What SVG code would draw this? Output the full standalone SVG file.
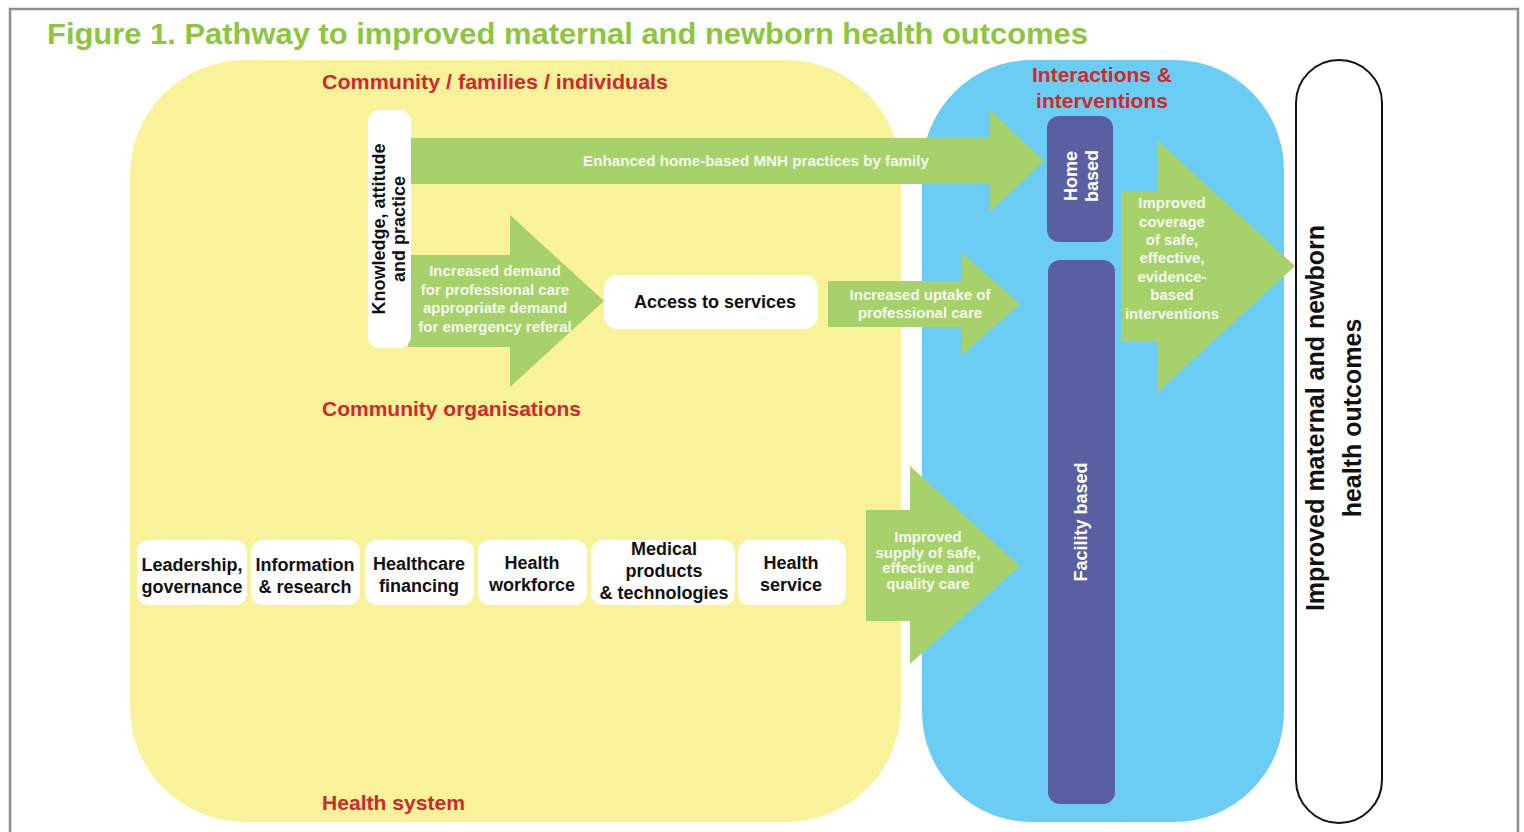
<svg xmlns="http://www.w3.org/2000/svg" width="1524" height="832" viewBox="0 0 1524 832">
<style>
.t{font-family:"Liberation Sans",Arial,sans-serif;font-weight:bold}
.red{fill:#d1282c;font-size:21px}
.box{fill:#ffffff}
.bl{fill:#111;font-size:18px;text-anchor:middle}
.gr{fill:#a6d16b}
.wt{fill:#f5faee;font-size:15px;text-anchor:middle}
.pu{fill:#5a5fa2}
.pt{fill:#ffffff;font-size:18px;text-anchor:middle}
</style>
<rect width="1524" height="832" fill="#ffffff"/>
<path d="M10 840 V9 H1518 V840" fill="none" stroke="#8c8c8c" stroke-width="2.5"/>
<text class="t" x="47" y="44" font-size="30" fill="#8cc63f" textLength="1041" lengthAdjust="spacingAndGlyphs">Figure 1. Pathway to improved maternal and newborn health outcomes</text>

<g id="region-community">
<rect x="130" y="60" width="771" height="762" rx="115" ry="115" fill="#f8f29a"/>
<text class="t red" x="322" y="89" textLength="346" lengthAdjust="spacingAndGlyphs">Community / families / individuals</text>
<text class="t red" x="322" y="416" textLength="259" lengthAdjust="spacingAndGlyphs">Community organisations</text>
<text class="t red" x="322" y="810" textLength="143" lengthAdjust="spacingAndGlyphs">Health system</text>
</g>

<g id="region-interactions">
<rect x="922" y="60" width="362" height="762" rx="110" ry="110" fill="#6ccdf4"/>
<text class="t red" x="1102" y="82" font-size="20" text-anchor="middle">Interactions &amp;</text>
<text class="t red" x="1102" y="108" font-size="20" text-anchor="middle">interventions</text>
</g>

<g id="connectors">
<polygon class="gr" points="411,138 990,138 990,110 1044,161 990,212 990,184 411,184"/>
<text class="t wt" x="756" y="166" textLength="346" lengthAdjust="spacingAndGlyphs">Enhanced home-based MNH practices by family</text>
<polygon class="gr" points="408,255 510,255 510,215 604,301 510,387 510,347 408,347"/>
<text class="t wt" x="495" y="276">Increased demand</text>
<text class="t wt" x="495" y="295">for professional care</text>
<text class="t wt" x="495" y="313">appropriate demand</text>
<text class="t wt" x="495" y="332">for emergency referal</text>
<polygon class="gr" points="828,281 962,281 962,253 1020,304 962,355 962,327 828,327"/>
<text class="t wt" x="920" y="300">Increased uptake of</text>
<text class="t wt" x="920" y="318">professional care</text>
<polygon class="gr" points="866,510 910,510 910,466 1020,566 910,664 910,621 866,621"/>
<text class="t wt" x="928" y="542">Improved</text>
<text class="t wt" x="928" y="558">supply of safe,</text>
<text class="t wt" x="928" y="573">effective and</text>
<text class="t wt" x="928" y="589">quality care</text>
<polygon class="gr" points="1121,192 1157,192 1157,140 1295,266 1157,393 1157,342 1121,342"/>
<text class="t wt" x="1172" y="208">Improved</text>
<text class="t wt" x="1172" y="227">coverage</text>
<text class="t wt" x="1172" y="245">of safe,</text>
<text class="t wt" x="1172" y="263">effective,</text>
<text class="t wt" x="1172" y="282">evidence-</text>
<text class="t wt" x="1172" y="300">based</text>
<text class="t wt" x="1172" y="319">interventions</text>
</g>

<g id="kap">
<rect class="box" x="368" y="110" width="43" height="238" rx="12"/>
<g transform="translate(389,229) rotate(-90)">
<text class="t bl" x="0" y="-4">Knowledge, attitude</text>
<text class="t bl" x="0" y="16">and practice</text>
</g>
</g>

<g id="access">
<rect class="box" x="604" y="275" width="214" height="54" rx="14"/>
<text class="t bl" x="715" y="308">Access to services</text>
</g>

<g id="home-based">
<rect class="pu" x="1047" y="116" width="66" height="126" rx="12"/>
<g transform="translate(1080,176) rotate(-90)">
<text class="t pt" x="0" y="-3">Home</text>
<text class="t pt" x="0" y="18">based</text>
</g>
</g>

<g id="facility-based">
<rect class="pu" x="1048" y="260" width="67" height="544" rx="12"/>
<g transform="translate(1081,522) rotate(-90)">
<text class="t pt" x="0" y="6">Facility based</text>
</g>
</g>

<g id="outcomes">
<rect x="1296" y="60" width="86" height="763" rx="43" fill="#ffffff" stroke="#111" stroke-width="2"/>
<g transform="translate(1333,418) rotate(-90)">
<text class="t" x="0" y="-9" font-size="25" fill="#111" text-anchor="middle">Improved maternal and newborn</text>
<text class="t" x="0" y="28" font-size="25" fill="#111" text-anchor="middle">health outcomes</text>
</g>
</g>

<g id="leadership">
<rect class="box" x="137" y="540" width="110" height="65" rx="12"/>
<text class="t bl" x="192" y="571">Leadership,</text>
<text class="t bl" x="192" y="593">governance</text>
</g>
<g id="information">
<rect class="box" x="251" y="540" width="109" height="65" rx="12"/>
<text class="t bl" x="305" y="571">Information</text>
<text class="t bl" x="305" y="593">&amp; research</text>
</g>
<g id="financing">
<rect class="box" x="365" y="540" width="109" height="65" rx="12"/>
<text class="t bl" x="419" y="570">Healthcare</text>
<text class="t bl" x="419" y="592">financing</text>
</g>
<g id="workforce">
<rect class="box" x="478" y="540" width="109" height="65" rx="12"/>
<text class="t bl" x="532" y="569">Health</text>
<text class="t bl" x="532" y="591">workforce</text>
</g>
<g id="medical">
<rect class="box" x="591" y="540" width="144" height="65" rx="12"/>
<text class="t bl" x="664" y="555">Medical</text>
<text class="t bl" x="664" y="577">products</text>
<text class="t bl" x="664" y="599">&amp; technologies</text>
</g>
<g id="health-service">
<rect class="box" x="738" y="540" width="108" height="65" rx="12"/>
<text class="t bl" x="791" y="569">Health</text>
<text class="t bl" x="791" y="591">service</text>
</g>
</svg>
